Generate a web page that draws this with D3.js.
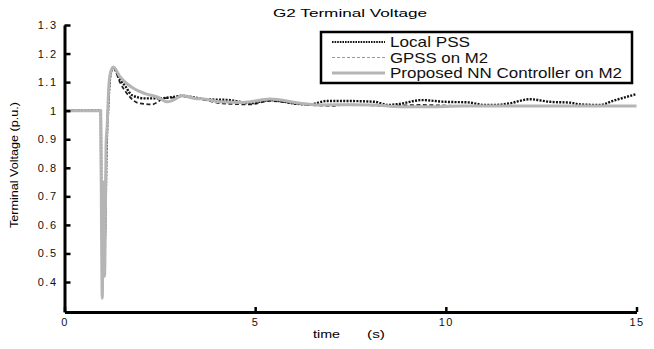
<!DOCTYPE html>
<html>
<head>
<meta charset="utf-8">
<script src="https://d3js.org/d3.v7.min.js"></script>
<style>
  body { margin: 0; background: #fff; }
  text { font-family: "Liberation Sans", Arial, Helvetica, sans-serif; }
</style>
</head>
<body>
<div id="chart"></div>
<script>
// series (time in s, voltage in p.u.)
var nnTime = [0, 0.95, 0.97, 0.99, 1.01, 1.03, 1.05, 1.07, 1.09, 1.12, 1.16, 1.2, 1.28, 1.45, 1.59, 1.85, 2.11, 2.45, 2.69, 2.85, 3.08, 3.42, 3.7, 4.08, 4.68, 5.39, 6.18, 6.7, 7.5, 8.1, 8.8, 9.6, 10.4, 11.3, 12, 13, 14, 15];
var nnVolt = [1.0, 1.0, 0.6, 0.343, 0.58, 0.75, 0.42, 0.6, 0.88, 0.95, 1.08, 1.13, 1.153, 1.12, 1.1, 1.075, 1.06, 1.047, 1.031, 1.037, 1.052, 1.043, 1.04, 1.031, 1.029, 1.041, 1.026, 1.02, 1.021, 1.02, 1.014, 1.014, 1.016, 1.016, 1.016, 1.016, 1.016, 1.016];

var localTime = [0, 0.95, 0.97, 1.01, 1.04, 1.06, 1.1, 1.15, 1.2, 1.28, 1.45, 1.6, 1.76, 2.11, 2.45, 2.85, 3.08, 3.42, 3.7, 4.34, 4.86, 5.39, 6.18, 6.44, 6.88, 7.3, 8.14, 8.48, 8.75, 9.37, 9.98, 10.58, 11.03, 11.3, 11.68, 12.2, 12.73, 13.26, 13.52, 14.04, 14.4, 15];
var localVolt = [1.0, 1.0, 0.62, 0.6, 0.58, 0.55, 0.85, 1.02, 1.12, 1.15, 1.11, 1.085, 1.055, 1.043, 1.043, 1.048, 1.052, 1.046, 1.04, 1.037, 1.026, 1.037, 1.023, 1.022, 1.034, 1.034, 1.031, 1.02, 1.023, 1.037, 1.031, 1.029, 1.02, 1.02, 1.026, 1.04, 1.031, 1.028, 1.022, 1.02, 1.035, 1.058];

var gpssTime = [0, 0.95, 0.97, 1.01, 1.04, 1.06, 1.1, 1.15, 1.2, 1.28, 1.45, 1.7, 1.93, 2.3, 2.45, 2.58, 2.85, 3.08, 3.42, 3.7, 4.08, 4.86, 5.39, 6.18, 6.96, 7.5, 8.48, 9.32, 10.4, 11.3, 12.5, 13.5, 15];
var gpssVolt = [1.0, 1.0, 0.61, 0.58, 0.57, 0.55, 0.88, 1.03, 1.12, 1.15, 1.1, 1.05, 1.027, 1.022, 1.031, 1.043, 1.046, 1.05, 1.043, 1.037, 1.026, 1.022, 1.034, 1.023, 1.017, 1.021, 1.017, 1.02, 1.017, 1.017, 1.016, 1.017, 1.017];

var xTicks = [0, 5, 10, 15];
var yTicks = [0.4, 0.5, 0.6, 0.7, 0.8, 0.9, 1, 1.1, 1.2, 1.3];
var legendLabels = ["Local PSS", "GPSS on M2", "Proposed NN Controller on M2"];

var width = 654, height = 349;
var margin = {left: 64.5, right: 636.5, top: 25, bottom: 312};

var svg = d3.select("#chart").append("svg")
    .attr("width", width)
    .attr("height", height);

var x = d3.scaleLinear().domain([0, 15]).range([margin.left, margin.right]);
var y = d3.scaleLinear().domain([0.295, 1.3]).range([margin.bottom, margin.top]);

function zipSeries(t, v) {
  var arr = [];
  for (var i = 0; i < t.length; i++) arr.push([t[i], v[i]]);
  return arr;
}

var line = d3.line()
    .x(function(d) { return x(d[0]); })
    .y(function(d) { return y(d[1]); })
    .curve(d3.curveMonotoneX);

// curves: dashed, then dotted, gray on top
svg.append("path")
    .datum(zipSeries(gpssTime, gpssVolt))
    .attr("d", line)
    .attr("fill", "none")
    .attr("stroke", "#222")
    .attr("stroke-width", 1.7)
    .attr("stroke-dasharray", "4,2.5");

svg.append("path")
    .datum(zipSeries(localTime, localVolt))
    .attr("d", line)
    .attr("fill", "none")
    .attr("stroke", "#111")
    .attr("stroke-width", 2.4)
    .attr("stroke-dasharray", "2,1.3");

svg.append("path")
    .datum(zipSeries(nnTime, nnVolt))
    .attr("d", line)
    .attr("fill", "none")
    .attr("stroke", "#b5b5b5")
    .attr("stroke-width", 3);

// axes
var xAxis = svg.append("g")
    .attr("transform", "translate(0," + margin.bottom + ")")
    .call(d3.axisBottom(x).tickValues(xTicks).tickFormat(d3.format("d"))
      .tickSize(-5).tickSizeOuter(0).tickPadding(6));

var yAxis = svg.append("g")
    .attr("transform", "translate(" + margin.left + ",0)")
    .call(d3.axisLeft(y).tickValues(yTicks).tickFormat(function(d) { return d === 1 ? "1" : d3.format(".1f")(d); })
      .tickSize(-6).tickSizeOuter(0).tickPadding(7));

[xAxis, yAxis].forEach(function(g) {
  g.select(".domain").attr("stroke", "#000").attr("stroke-width", 3);
  g.selectAll(".tick line").attr("stroke", "#000").attr("stroke-width", 2.5);
  g.selectAll(".tick text")
    .attr("fill", "#111")
    .style("font-size", "11px")
    .style("letter-spacing", "1.5px");
});

// title and axis labels
svg.append("text")
    .attr("x", 350).attr("y", 17)
    .attr("text-anchor", "middle")
    .attr("textLength", 154)
    .attr("lengthAdjust", "spacingAndGlyphs")
    .style("font-size", "11px")
    .text("G2 Terminal Voltage");

svg.append("text")
    .attr("transform", "translate(18,165)rotate(-90)")
    .attr("text-anchor", "middle")
    .attr("textLength", 126)
    .attr("lengthAdjust", "spacingAndGlyphs")
    .style("font-size", "10px")
    .text("Terminal Voltage  (p.u.)");

svg.append("text")
    .attr("x", 313).attr("y", 338)
    .attr("textLength", 27)
    .attr("lengthAdjust", "spacingAndGlyphs")
    .style("font-size", "11.5px")
    .text("time");

svg.append("text")
    .attr("x", 367).attr("y", 338)
    .attr("textLength", 18)
    .attr("lengthAdjust", "spacingAndGlyphs")
    .style("font-size", "11.5px")
    .text("(s)");

// legend
var legend = svg.append("g");
legend.append("rect")
    .attr("x", 321).attr("y", 32)
    .attr("width", 311).attr("height", 51)
    .attr("fill", "#fff")
    .attr("stroke", "#000")
    .attr("stroke-width", 2.5);

var legendStyles = [
  {stroke: "#111", width: 2, dash: "1.6,1"},
  {stroke: "#999", width: 1, dash: "3,2"},
  {stroke: "#b5b5b5", width: 3, dash: null}
];
var legendWidths = [80, 98, 232];

legendLabels.forEach(function(label, i) {
  var ly = 42 + i * 15.5;
  legend.append("line")
      .attr("x1", 332).attr("x2", 385)
      .attr("y1", ly).attr("y2", ly)
      .attr("stroke", legendStyles[i].stroke)
      .attr("stroke-width", legendStyles[i].width)
      .attr("stroke-dasharray", legendStyles[i].dash);
  legend.append("text")
      .attr("x", 390).attr("y", ly + 5)
      .attr("textLength", legendWidths[i])
      .attr("lengthAdjust", "spacingAndGlyphs")
      .style("font-size", "14.5px")
      .attr("fill", "#111")
      .text(label);
});
</script>
</body>
</html>
